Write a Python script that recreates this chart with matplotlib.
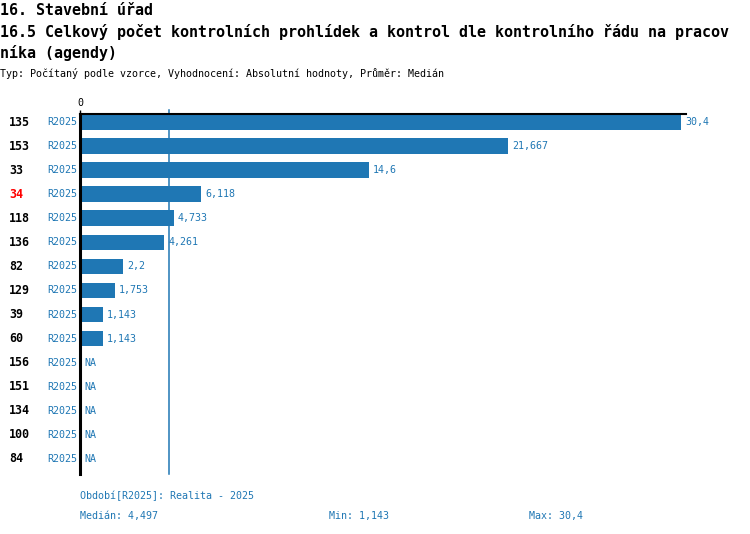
import matplotlib
matplotlib.use("Agg")
import matplotlib.pyplot as plt
import numpy as np

ids = ["135", "153", "33", "34", "118", "136", "82", "129", "39", "60",
       "156", "151", "134", "100", "84"]
period = ["R2025"] * 15
values = [30.4, 21.667, 14.6, 6.118, 4.733, 4.261, 2.2, 1.753, 1.143, 1.143,
          None, None, None, None, None]
highlight = "34"

title1 = "16. Stavební úřad"
title2 = "16.5 Celkový počet kontrolních prohlídek a kontrol dle kontrolního řádu na pracov"
title3 = "níka (agendy)"
subtitle = "Typ: Počítaný podle vzorce, Vyhodnocení: Absolutní hodnoty, Průměr: Medián"
period_note = "Období[R2025]: Realita - 2025"

BLUE = "#1f77b4"
W, H = 750, 534
FONT = "DejaVu Sans Mono"
plt.rcParams["font.family"] = [FONT, "DejaVu Sans"]


def fmt(v):
    s = f"{v:.3f}".rstrip("0").rstrip(".")
    return s.replace(".", ",")


vals = [v for v in values if v is not None]
median = float(np.median(vals))
vmin, vmax = min(vals), max(vals)

fig = plt.figure(figsize=(W / 100, H / 100), dpi=100)


def fy(px):
    return 1 - px / H


def fx(px):
    return px / W


fig.text(fx(0), fy(15), title1, fontsize=10.8, fontweight="bold", va="baseline", ha="left")
fig.text(fx(0), fy(37), title2, fontsize=10.8, fontweight="bold", va="baseline", ha="left")
fig.text(fx(0), fy(58), title3, fontsize=10.8, fontweight="bold", va="baseline", ha="left")
fig.text(fx(0), fy(77), subtitle, fontsize=7.2, va="baseline", ha="left")

ax_l, ax_r, ax_t, ax_b = 80, 686, 114, 474
ax = fig.add_axes([fx(ax_l), fy(ax_b), fx(ax_r - ax_l), (ax_b - ax_t) / H])

n = len(ids)
ypos = np.arange(n)
bar_vals = [v if v is not None else 0 for v in values]
ax.barh(ypos, bar_vals, height=0.65, color=BLUE)
ax.set_ylim(n - 1 + 0.625, -0.333)
ax.set_xlim(0, vmax * 1.0083)

for sp in ["right", "bottom"]:
    ax.spines[sp].set_visible(False)
ax.spines["left"].set_linewidth(2.2)
ax.spines["top"].set_linewidth(1.5)
ax.xaxis.tick_top()
ax.set_xticks([0])
ax.set_xticklabels(["0"], fontsize=7.2)
ax.tick_params(axis="x", length=3, width=1, pad=1)
ax.set_yticks([])

ax.axvline(median, ymin=0, ymax=1 + 4 / (ax_b - ax_t), color=BLUE, lw=1.1, clip_on=False)

for i, (lab, per, v) in enumerate(zip(ids, period, values)):
    ax.text((9 - ax_l) / (ax_r - ax_l), i, lab, transform=ax.get_yaxis_transform(),
            fontsize=8.4, fontweight="bold", va="center", ha="left",
            color="red" if lab == highlight else "black")
    ax.text((77 - ax_l) / (ax_r - ax_l), i, per, transform=ax.get_yaxis_transform(),
            fontsize=7.2, va="center", ha="right", color=BLUE)
    if v is None:
        ax.annotate("NA", (0, i), xytext=(3, 0), textcoords="offset points",
                    fontsize=7.2, va="center", ha="left", color=BLUE)
    else:
        ax.annotate(fmt(v), (v, i), xytext=(3, 0), textcoords="offset points",
                    fontsize=7.2, va="center", ha="left", color=BLUE)

fig.text(fx(80), fy(496), period_note, fontsize=7.2, color=BLUE, va="center", ha="left")
fig.text(fx(80), fy(516), f"Medián: {fmt(median)}", fontsize=7.2, color=BLUE, va="center", ha="left")
fig.text(fx(329), fy(516), f"Min: {fmt(vmin)}", fontsize=7.2, color=BLUE, va="center", ha="left")
fig.text(fx(529), fy(516), f"Max: {fmt(vmax)}", fontsize=7.2, color=BLUE, va="center", ha="left")

fig.savefig("out.png", dpi=100)
